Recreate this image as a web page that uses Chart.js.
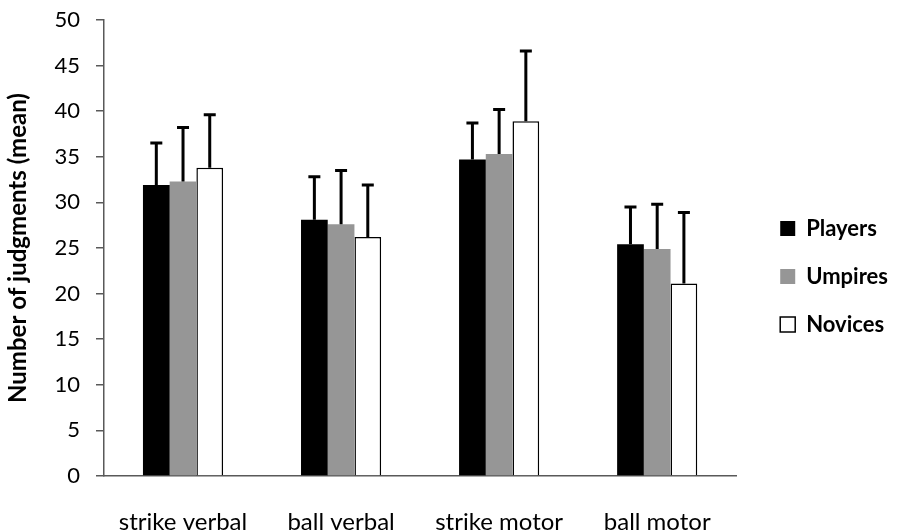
<!DOCTYPE html>
<html>
<head>
<meta charset="utf-8">
<script src="https://cdn.jsdelivr.net/npm/chart.js@4/dist/chart.umd.min.js"></script>
<style>
  html, body { margin: 0; padding: 0; background: #fff; }
  #wrap { width: 898px; height: 530px; }
</style>
</head>
<body>
<div id="wrap"><canvas id="c" width="898" height="530"></canvas></div>
<script>
// Judgment categories
const categories = ['strike verbal', 'ball verbal', 'strike motor', 'ball motor'];

// Mean number of judgments per group
const players = [31.9, 28.1, 34.7, 25.4];
const umpires = [32.3, 27.6, 35.3, 24.9];
const novices = [33.8, 26.2, 38.9, 21.1];

// Standard deviations (drawn as upper error bars)
const playersSD = [4.6, 4.7, 4.0, 4.1];
const umpiresSD = [5.9, 5.9, 4.9, 4.9];
const novicesSD = [5.8, 5.7, 7.7, 7.8];

// Y axis ticks
const yTicks = [0, 5, 10, 15, 20, 25, 30, 35, 40, 45, 50];

const FONT = 'Lato, "Liberation Sans", sans-serif';

// Upper error bars with caps, placed through the chart's own scales
const errorBars = {
  id: 'errorBars',
  afterDatasetsDraw(chart) {
    const ctx = chart.ctx;
    const y = chart.scales.y;
    chart.data.datasets.forEach((ds, di) => {
      const meta = chart.getDatasetMeta(di);
      if (meta.hidden) return;
      meta.data.forEach((bar, i) => {
        const top = y.getPixelForValue(ds.data[i]);
        const end = y.getPixelForValue(ds.data[i] + ds.errors[i]);
        ctx.save();
        ctx.strokeStyle = '#000';
        ctx.lineWidth = 3;
        ctx.lineCap = 'butt';
        ctx.beginPath();
        ctx.moveTo(bar.x, top);
        ctx.lineTo(bar.x, end);
        ctx.moveTo(bar.x - 6, end);
        ctx.lineTo(bar.x + 6, end);
        ctx.stroke();
        ctx.restore();
      });
    });
  }
};

new Chart(document.getElementById('c'), {
  type: 'bar',
  data: {
    labels: categories,
    datasets: [
      { label: 'Players', data: players, errors: playersSD,
        backgroundColor: '#000000', borderColor: '#000000', borderWidth: 0 },
      { label: 'Umpires', data: umpires, errors: umpiresSD,
        backgroundColor: '#969696', borderColor: '#969696', borderWidth: 0 },
      { label: 'Novices', data: novices, errors: novicesSD,
        backgroundColor: '#ffffff', borderColor: '#000000', borderWidth: 1.5 }
    ]
  },
  options: {
    responsive: false,
    animation: false,
    devicePixelRatio: 1,
    layout: { padding: { top: 0, right: 0, bottom: 0, left: 0 } },
    datasets: { bar: { categoryPercentage: 0.507, barPercentage: 1.0 } },
    plugins: {
      tooltip: { enabled: false },
      legend: {
        position: 'right',
        title: { display: true, text: ' ', font: { size: 1 }, padding: { top: 22, bottom: 0 } },
        labels: {
          color: '#000',
          font: { family: FONT, size: 22, weight: 'bold' },
          boxWidth: 15,
          boxHeight: 15,
          padding: 26,
          generateLabels(chart) {
            return chart.data.datasets.map((ds, i) => ({
              text: ds.label,
              fillStyle: ds.backgroundColor,
              strokeStyle: '#000',
              lineWidth: i === 2 ? 1.5 : 0,
              datasetIndex: i,
              fontColor: '#000'
            }));
          }
        }
      }
    },
    scales: {
      x: {
        grid: { display: false },
        border: { display: true, color: '#595959', width: 1.5 },
        ticks: { color: '#000', padding: 24, font: { family: FONT, size: 24 } },
        afterFit(s) { s.height = 54; }
      },
      y: {
        min: 0,
        max: 50,
        afterBuildTicks(s) { s.ticks = yTicks.map(v => ({ value: v })); },
        grid: { display: true, drawOnChartArea: false, drawTicks: true, tickLength: 8,
                color: '#595959', lineWidth: 1.5 },
        border: { display: true, color: '#595959', width: 1.5 },
        ticks: { color: '#000', padding: 16, font: { family: FONT, size: 22 } },
        title: {
          display: true,
          text: 'Number of judgments (mean)',
          color: '#000',
          font: { family: FONT, size: 24, weight: 'bold' },
          padding: { top: 4, bottom: 0 }
        },
        afterFit(s) { s.width = 104; s.paddingTop = 20; }
      },
      // spacer between the plot and the legend
      gap: {
        position: 'right',
        display: true,
        grid: { display: false },
        border: { display: false },
        ticks: { display: false },
        afterFit(s) { s.width = 18; s.paddingTop = 0; s.paddingBottom = 0; }
      }
    }
  },
  plugins: [errorBars]
});
</script>
</body>
</html>
